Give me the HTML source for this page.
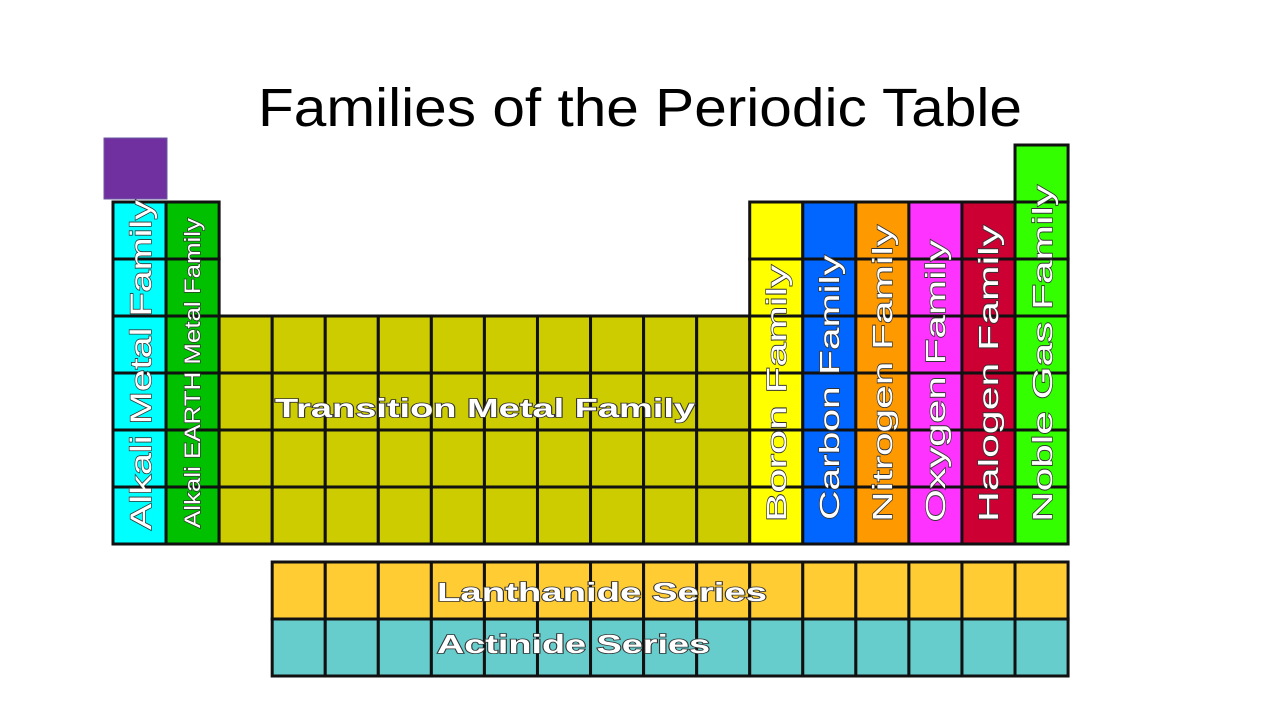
<!DOCTYPE html>
<html><head><meta charset="utf-8"><style>
body{margin:0;background:#fff;}
svg{display:block;font-family:"Liberation Sans",Arial,sans-serif;}
.lbl{fill:#fff;stroke:#333;stroke-width:1.6;paint-order:stroke;font-weight:bold;}
.thin{font-weight:normal;stroke-width:1.3;}
</style></head><body>
<svg id="chart" width="1280" height="720" viewBox="0 0 1280 720">
<text x="258" y="126" font-size="54" textLength="764" lengthAdjust="spacingAndGlyphs" fill="#000">Families of the Periodic Table</text>
<rect x="104" y="138" width="63" height="61" fill="#7030a0" stroke="#6a5aa0" stroke-width="1"/>
<g id="cells"></g>
<g id="labels"></g>
</svg>
<script>
const colColors=["#00ffff","#00c000","#cccc00","#cccc00","#cccc00","#cccc00","#cccc00","#cccc00","#cccc00","#cccc00","#cccc00","#cccc00","#ffff00","#0066ff","#ff9900","#ff33ff","#cc0033","#33ff00"];
const colStartRow=[1,1,3,3,3,3,3,3,3,3,3,3,1,1,1,1,1,0];
const seriesNames=["Lanthanide Series","Actinide Series"];
const seriesColors=["#ffcc33","#66cccc"];
const x0=113,cw=53.06,y0=145,rh=57;
const ns="http://www.w3.org/2000/svg";
const cells=document.getElementById('cells');
function cx(i){return x0+i*cw;}
function ry(r){return y0+r*rh;}
colColors.forEach((c,i)=>{
  for(let r=colStartRow[i];r<7;r++){
    const el=document.createElementNS(ns,'rect');
    
    
    el.setAttribute('x',cx(i));el.setAttribute('y',ry(r));
    el.setAttribute('width',cw);el.setAttribute('height',rh);
    el.setAttribute('fill',c);el.setAttribute('stroke','#111');el.setAttribute('stroke-width','3');
    cells.appendChild(el);
  }
});
seriesColors.forEach((c,s)=>{
  for(let i=3;i<18;i++){
    const el=document.createElementNS(ns,'rect');
    
    
    el.setAttribute('x',cx(i));el.setAttribute('y',562+s*rh);
    el.setAttribute('width',cw);el.setAttribute('height',rh);
    el.setAttribute('fill',c);el.setAttribute('stroke','#111');el.setAttribute('stroke-width','3');
    cells.appendChild(el);
  }
});
const labels=document.getElementById('labels');
function addText(str,x,y,size,len,rot,name,thin){
  const t=document.createElementNS(ns,'text');
  
  
  t.setAttribute('class',thin?'lbl thin':'lbl');
  t.setAttribute('x',x);t.setAttribute('y',y);
  t.setAttribute('font-size',size);
  t.setAttribute('textLength',len);
  t.setAttribute('lengthAdjust','spacingAndGlyphs');
  if(rot) t.setAttribute('transform','rotate(-90 '+x+' '+y+')');
  t.textContent=str;
  labels.appendChild(t);
}
addText("Alkali Metal Family",151,530,30,330,true,'alkali-metal-label',true);
addText("Alkali EARTH Metal Family",200,528,22,310,true,'alkaline-earth-label',true);
addText("Boron  Family",786,522,28,257,true,'boron-label',true);
addText("Carbon  Family",839,520,28,265,true,'carbon-label',true);
addText("Nitrogen  Family",892,522,28,297,true,'nitrogen-label',true);
addText("Oxygen  Family",945,522,28,282,true,'oxygen-label',true);
addText("Halogen  Family",998,522,28,297,true,'halogen-label',true);
addText("Noble Gas  Family",1052,522,28,337,true,'noble-gas-label',true);
addText("Transition Metal Family",275,417,26,420,false,'transition-metal-label',false);
addText(seriesNames[0],437,601,26,330,false,'lanthanide-label',false);
addText(seriesNames[1],437,653,26,273,false,'actinide-label',false);
</script>
</body></html>
